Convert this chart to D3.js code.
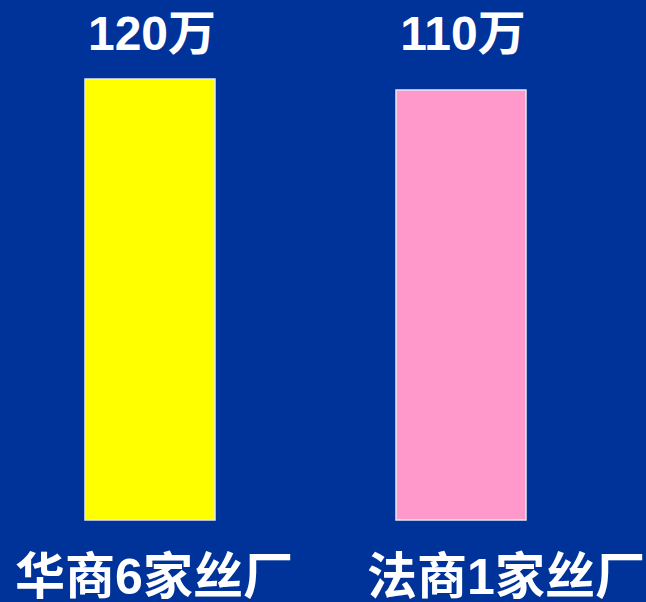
<!DOCTYPE html>
<html>
<head>
<meta charset="utf-8">
<script src="https://cdn.jsdelivr.net/npm/d3@7"></script>
<style>
  html, body { margin: 0; padding: 0; background: #003399; overflow: hidden; }
  text { font-family: "Liberation Sans", "Noto Sans CJK SC", sans-serif; font-weight: bold; fill: #fff; }
</style>
</head>
<body>
<div id="chart"></div>
<script>
const width = 646
const height = 602

// datos
const categories = ["华商6家丝厂", "法商1家丝厂"]
const values = [120, 110]
const valueLabels = ["120万", "110万"]
const colors = ["#ffff00", "#ff99cc"]

const svg = d3.select("div#chart")
    .append("svg")
    .attr("width", width)
    .attr("height", height)

svg.append("rect").attr("width", width).attr("height", height).attr("fill", "#003399")

// escalas: el eje no empieza en 0 (como en la diapositiva original)
const x = d3.scalePoint().domain(categories).range([150, 461])
const xLabel = d3.scalePoint().domain(categories).range([154, 506])
const y = d3.scaleLinear().domain([0, 120]).range([211, 79])
const baseline = 520
const barWidth = 130

const data = categories.map((c, i) => ({ cat: c, value: values[i], label: valueLabels[i], color: colors[i] }))

const bars = svg.append("g").selectAll("rect").data(data)
    .join("rect")
    .attr("x", d => x(d.cat) - barWidth / 2)
    .attr("y", d => y(d.value))
    .attr("width", barWidth)
    .attr("height", d => baseline - y(d.value))
    .attr("fill", d => d.color)
    .attr("stroke", "#e8e8f0")
    .attr("stroke-width", 1.5)

svg.append("g").selectAll("text").data(data)
    .join("text")
    .attr("x", d => x(d.cat) + 2)
    .attr("y", 50)
    .attr("text-anchor", "middle")
    .style("font-size", "48px")
    .text(d => d.label)

svg.append("g").selectAll("text").data(data)
    .join("text")
    .attr("x", d => xLabel(d.cat))
    .attr("y", 594)
    .attr("text-anchor", "middle")
    .style("font-size", "50px")
    .text(d => d.cat)
</script>
</body>
</html>
